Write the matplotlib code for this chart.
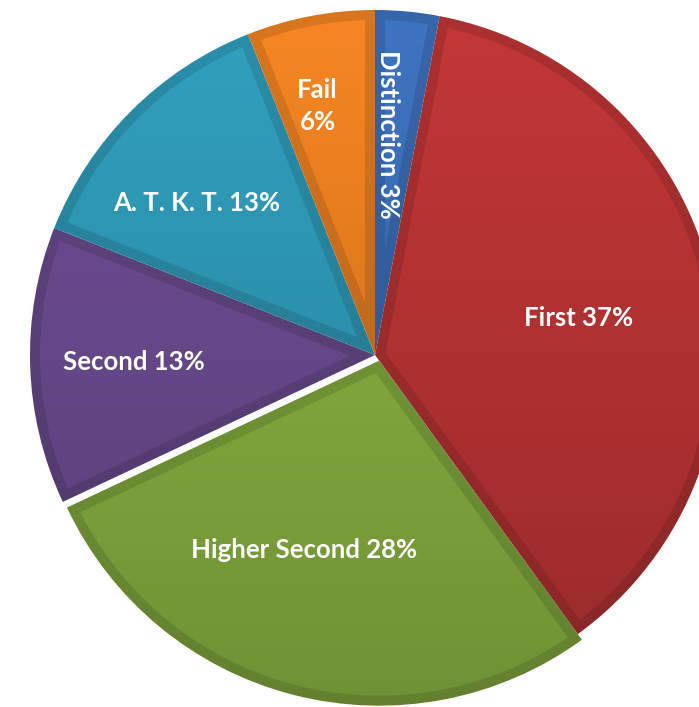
import numpy as np
import matplotlib
matplotlib.use("Agg")
import matplotlib.pyplot as plt
from matplotlib.patches import Polygon
import matplotlib.colors as mcolors

categories = ["Distinction", "First", "Higher Second", "Second", "A. T. K. T.", "Fail"]
values = [3, 37, 28, 13, 13, 6]
colors = ["#3a6cb4", "#b63333", "#85ad3f", "#684a8c", "#2d96b2", "#e57d20"]

W, H = 699, 707
fig = plt.figure(figsize=(W / 100, H / 100), dpi=100)
ax = fig.add_axes([0, 0, 1, 1])

cx, cy, R = 375, 352, 345

wedges, _ = ax.pie(values, colors=colors, startangle=90,
                   counterclock=False, center=(cx, cy), radius=R, frame=True,
                   wedgeprops=dict(linewidth=0))
ax.set_xlim(0, W)
ax.set_ylim(0, H)
ax.set_aspect("equal")
ax.axis("off")

# small offset of the "Higher Second" slice along its right edge
# (opens a white gap only along its left edge)
hs = categories.index("Higher Second")
w = wedges[hs]
shift_ang = np.deg2rad(w.theta2)
off = 7
w.set_center((cx + off * np.cos(shift_ang), cy + off * np.sin(shift_ang)))

# vertical gradient helper (lighter at top, darker at bottom)
ys = np.linspace(0, 1, 256)[:, None]


def grad_img(c, base_f):
    f = base_f * (0.84 + 0.24 * ys)  # bottom -> top
    rgb = np.clip(np.array(mcolors.to_rgb(c))[None, None, :] * f[:, :, None], 0, 1)
    return np.repeat(rgb, 2, axis=1)


ext = (cx - R - 10, cx + R + 10, cy - R - 10, cy + R + 10)
d = 10
for w, c in zip(wedges, colors):
    w.set_alpha(0)
    x0, y0 = w.center
    # rim / bevel base
    base = Polygon(w.get_verts(), closed=True, facecolor="none", edgecolor="none")
    ax.add_patch(base)
    im = ax.imshow(grad_img(c, 0.88), extent=ext, origin="lower", aspect="auto",
                   zorder=2, interpolation="bilinear")
    im.set_clip_path(base)
    # inset face
    t1, t2 = np.deg2rad(w.theta1), np.deg2rad(w.theta2)
    half = (t2 - t1) / 2
    mid = (t1 + t2) / 2
    apex = (x0 + d / np.sin(half) * np.cos(mid), y0 + d / np.sin(half) * np.sin(mid))
    rr = w.r - d
    da = np.arctan2(d, np.sqrt(rr ** 2 - d ** 2))
    angs = np.linspace(t1 + da, t2 - da, 200)
    pts = [apex] + [(x0 + rr * np.cos(a), y0 + rr * np.sin(a)) for a in angs]
    face = Polygon(pts, closed=True, facecolor="none", edgecolor="none")
    ax.add_patch(face)
    im2 = ax.imshow(grad_img(c, 1.0), extent=ext, origin="lower", aspect="auto",
                    zorder=3, interpolation="bilinear")
    im2.set_clip_path(face)

ax.set_xlim(0, W)
ax.set_ylim(0, H)

# labels
label_text = ["Distinction 3%", "First 37%", "Higher Second 28%", "Second 13%",
              "A. T. K. T. 13%", "Fail\n6%"]
label_r = [0.64, 0.60, 0.60, 0.70, 0.68, 0.74]
label_da = [2.0, -2.4, -5.6, -0.2, 4.6, 2.2]
total = sum(values)
start = 90.0
for i, v in enumerate(values):
    span = 360.0 * v / total
    mid = start - span / 2
    start -= span
    a = np.deg2rad(mid + label_da[i])
    x = cx + label_r[i] * R * np.cos(a)
    y = cy + label_r[i] * R * np.sin(a)
    rot = -90 if categories[i] == "Distinction" else 0
    ax.text(x, y, label_text[i], color="white", fontsize=18.5, fontweight="bold",
            family="Lato", ha="center", va="center", rotation=rot,
            linespacing=1.4, zorder=5)

fig.savefig("out.png", dpi=100)
